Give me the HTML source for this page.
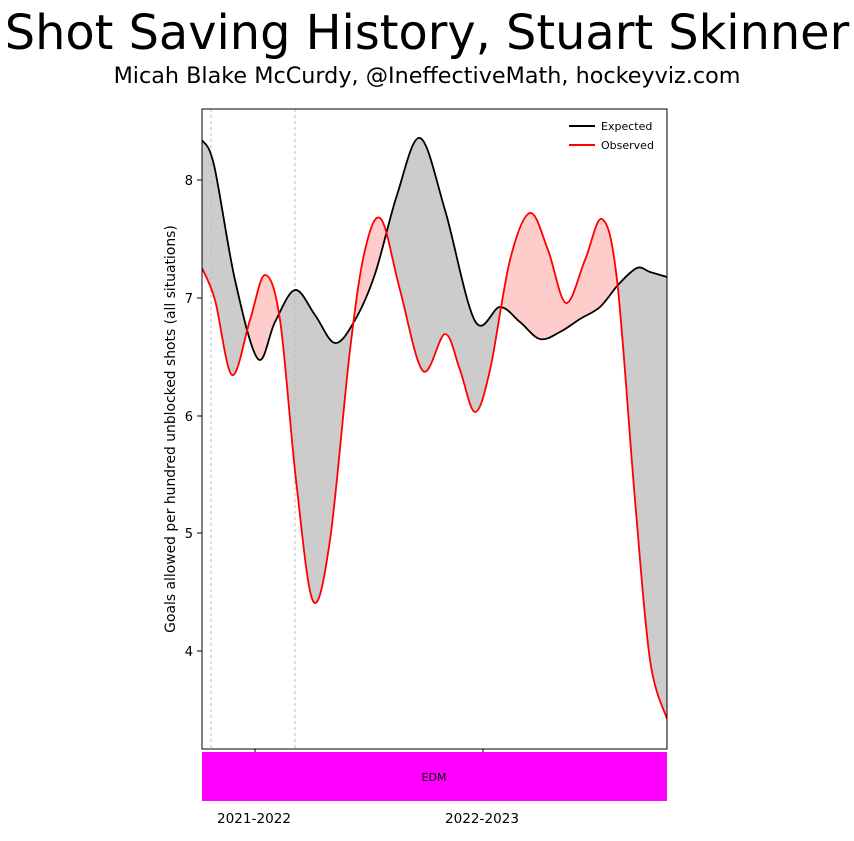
<!DOCTYPE html>
<html><head><meta charset="utf-8"><style>
body{margin:0;background:#fff;}
svg text{font-family:"DejaVu Sans","Liberation Sans",sans-serif;}
</style></head><body>
<svg id="s" width="854" height="836" viewBox="0 0 854 836" xmlns="http://www.w3.org/2000/svg">
<text x="427" y="49" font-size="47.8" text-anchor="middle">Shot Saving History, Stuart Skinner</text>
<text x="427" y="83" font-size="22.3" text-anchor="middle">Micah Blake McCurdy, @IneffectiveMath, hockeyviz.com</text>
<defs>
<clipPath id="plot"><rect x="202" y="109" width="465" height="640"/></clipPath>
<clipPath id="above"><path id="abovep" d=""/></clipPath>
</defs>
<g clip-path="url(#plot)">
<path id="gray" fill="#cccccc" d=""/>
<g clip-path="url(#above)"><path id="pink" fill="#ffcccc" d=""/></g>
<line x1="211" y1="109" x2="211" y2="749" stroke="#bbb" stroke-dasharray="3,3"/>
<line x1="295" y1="109" x2="295" y2="749" stroke="#bbb" stroke-dasharray="3,3"/>
<path id="exp" fill="none" stroke="#000" stroke-width="1.8" d=""/>
<path id="obs" fill="none" stroke="#f00" stroke-width="1.8" d=""/>
</g>
<rect x="202" y="109" width="465" height="640" fill="none" stroke="#000" stroke-width="1"/>
<g font-size="13" text-anchor="end">
<line x1="197" y1="180" x2="202" y2="180" stroke="#000"/><text x="193" y="185">8</text>
<line x1="197" y1="298" x2="202" y2="298" stroke="#000"/><text x="193" y="303">7</text>
<line x1="197" y1="416" x2="202" y2="416" stroke="#000"/><text x="193" y="421">6</text>
<line x1="197" y1="533" x2="202" y2="533" stroke="#000"/><text x="193" y="538">5</text>
<line x1="197" y1="651" x2="202" y2="651" stroke="#000"/><text x="193" y="656">4</text>
</g>
<line x1="255" y1="749" x2="255" y2="754" stroke="#000"/>
<line x1="483" y1="749" x2="483" y2="754" stroke="#000"/>
<text x="175" y="429" font-size="13.9" text-anchor="middle" transform="rotate(-90 175 429)">Goals allowed per hundred unblocked shots (all situations)</text>
<line x1="569" y1="126" x2="595" y2="126" stroke="#000" stroke-width="2"/>
<text x="601" y="130" font-size="11">Expected</text>
<line x1="569" y1="145" x2="595" y2="145" stroke="#f00" stroke-width="2"/>
<text x="601" y="149" font-size="11">Observed</text>
<rect x="202" y="752" width="465" height="49" fill="#ff00ff"/>
<text x="434" y="781" font-size="11" text-anchor="middle">EDM</text>
<text x="254" y="823" font-size="13.6" text-anchor="middle">2021-2022</text>
<text x="482" y="823" font-size="13.6" text-anchor="middle">2022-2023</text>
</svg>
<script>
var E=[[202,140],[214,165],[235,280],[258,359],[275,322],[295,290],[315,315],[335,343],[355,320],[375,274],[397,195],[420,138],[445,210],[475,321],[500,307],[520,322],[540,339],[560,332],[580,319],[600,307],[618,285],[637,268],[650,272],[667,277]];
var O=[[202,268],[215,300],[232,375],[250,320],[265,275],[280,320],[296,480],[313,601],[330,540],[350,350],[365,250],[381,219],[400,290],[423,371],[445,334],[460,370],[475,412],[490,370],[510,260],[530,213],[548,250],[566,303],[585,260],[602,219],[617,280],[635,500],[650,660],[667,719]];
function cr(p,rev){if(rev)p=p.slice().reverse();var d="";for(var i=0;i<p.length-1;i++){var a=p[Math.max(i-1,0)],b=p[i],c=p[i+1],e=p[Math.min(i+2,p.length-1)];var c1=[b[0]+(c[0]-a[0])/6,b[1]+(c[1]-a[1])/6],c2=[c[0]-(e[0]-b[0])/6,c[1]-(e[1]-b[1])/6];d+=" C"+c1+" "+c2+" "+c;}return d;}
var de="M"+E[0]+cr(E),dO="M"+O[0]+cr(O);
document.getElementById("exp").setAttribute("d",de);
document.getElementById("obs").setAttribute("d",dO);
var between=de+" L"+O[O.length-1]+cr(O,true)+" Z";
document.getElementById("gray").setAttribute("d",between);
document.getElementById("pink").setAttribute("d",between);
document.getElementById("abovep").setAttribute("d",de+" L667,0 L202,0 Z");
</script>
</body></html>
